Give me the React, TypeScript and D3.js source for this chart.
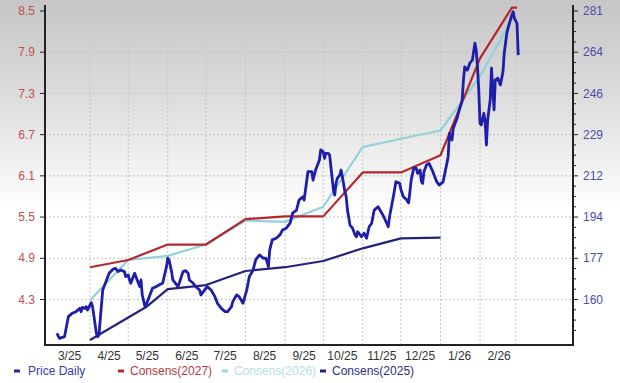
import React from "react";
import * as d3 from "d3";

const priceDates = [
  "2025-03-06","2025-03-08","2025-03-12","2025-03-15","2025-03-18","2025-03-21","2025-03-24","2025-03-25","2025-03-26","2025-03-28","2025-03-29","2025-03-30",
  "2025-04-02","2025-04-03","2025-04-06","2025-04-07","2025-04-08","2025-04-11","2025-04-14","2025-04-16","2025-04-19","2025-04-21","2025-04-23","2025-04-25","2025-04-28","2025-04-29",
  "2025-05-01","2025-05-02","2025-05-03","2025-05-05","2025-05-06","2025-05-07","2025-05-08","2025-05-10","2025-05-11","2025-05-12","2025-05-14","2025-05-15","2025-05-18","2025-05-20","2025-05-23","2025-05-25","2025-05-28","2025-05-31",
  "2025-06-01","2025-06-02","2025-06-04","2025-06-05","2025-06-08","2025-06-09","2025-06-10","2025-06-13","2025-06-15","2025-06-17","2025-06-18","2025-06-21","2025-06-23","2025-06-26","2025-06-27","2025-06-30",
  "2025-07-02","2025-07-05","2025-07-08","2025-07-10","2025-07-13","2025-07-16","2025-07-18","2025-07-21","2025-07-22","2025-07-25","2025-07-27","2025-07-30",
  "2025-08-02","2025-08-04","2025-08-07","2025-08-09","2025-08-12","2025-08-15","2025-08-17","2025-08-19","2025-08-20","2025-08-22","2025-08-25","2025-08-28","2025-08-30",
  "2025-09-02","2025-09-05","2025-09-07","2025-09-10","2025-09-12","2025-09-15","2025-09-16","2025-09-19","2025-09-22","2025-09-23","2025-09-25","2025-09-28","2025-09-29",
  "2025-10-01","2025-10-02","2025-10-03","2025-10-05","2025-10-06","2025-10-07","2025-10-09","2025-10-10","2025-10-11","2025-10-12","2025-10-14","2025-10-15","2025-10-16","2025-10-18","2025-10-19","2025-10-20","2025-10-22","2025-10-24","2025-10-26","2025-10-27","2025-10-28","2025-10-29","2025-10-31",
  "2025-11-02","2025-11-04","2025-11-06","2025-11-08","2025-11-10","2025-11-13","2025-11-16","2025-11-18","2025-11-21","2025-11-22","2025-11-25","2025-11-27","2025-11-30",
  "2025-12-01","2025-12-03","2025-12-05","2025-12-07","2025-12-09","2025-12-11","2025-12-13","2025-12-14","2025-12-16","2025-12-17","2025-12-18","2025-12-19","2025-12-21","2025-12-23","2025-12-26","2025-12-29","2025-12-31",
  "2026-01-03","2026-01-06","2026-01-07","2026-01-08","2026-01-10","2026-01-11","2026-01-14","2026-01-15","2026-01-18","2026-01-19","2026-01-20","2026-01-22","2026-01-23","2026-01-24","2026-01-26","2026-01-28","2026-01-29","2026-01-30","2026-01-31",
  "2026-02-01","2026-02-02","2026-02-04","2026-02-05","2026-02-06","2026-02-07","2026-02-09","2026-02-10","2026-02-12","2026-02-13","2026-02-15","2026-02-17","2026-02-19","2026-02-20","2026-02-22","2026-02-24","2026-02-26","2026-02-27","2026-02-28","2026-03-02","2026-03-03"
];
const priceValues = [
  145.8,143.7,144.4,152.8,154.2,154.9,156.3,154.9,156.7,156.3,157.0,155.6,
  158.7,157.0,145.8,144.4,145.1,164.0,168.2,171.0,172.7,173.1,171.7,172.4,171.7,169.6,
  170.3,168.2,166.8,169.6,171.0,169.6,168.2,165.4,168.2,161.9,157.3,157.7,161.9,164.7,165.4,166.1,166.8,173.8,
  177.3,176.6,171.7,168.2,166.1,165.4,166.8,171.7,172.1,171.0,168.2,166.8,165.4,164.0,161.9,164.0,
  165.4,164.0,161.2,158.4,156.3,154.9,154.9,157.0,159.1,161.9,161.2,158.4,
  164.0,169.6,172.4,176.6,178.7,177.3,177.3,173.8,180.8,185.0,185.7,187.1,189.1,
  189.9,192.0,196.2,197.5,201.7,203.1,201.7,213.6,213.6,210.1,214.3,218.5,222.7,
  222.0,219.2,221.3,221.3,220.6,215.7,205.9,203.8,208.7,210.8,212.2,214.3,211.5,205.2,203.1,197.5,191.2,189.9,187.1,186.3,188.4,187.8,186.3,
  187.8,185.7,190.5,192.0,197.5,198.9,196.2,194.1,190.5,194.7,203.1,209.4,208.7,
  205.9,203.0,202.1,200.5,210.1,215.2,215.0,212.9,214.3,209.4,208.7,213.6,216.4,217.1,213.6,209.4,208.0,
  209.3,217.1,219.9,229.7,226.9,231.8,236.0,238.1,243.7,252.1,257.6,256.2,257.6,259.1,260.4,267.5,264.6,257.6,247.9,
  233.9,233.2,238.1,234.6,224.8,235.3,243.7,257.0,239.5,252.1,252.8,250.0,255.5,263.3,271.6,275.8,279.3,280.7,277.9,275.8,262.5
];

const cons2027Dates = ["2025-04-01","2025-05-01","2025-06-01","2025-07-01","2025-08-01","2025-09-01","2025-10-01","2025-11-01","2025-12-01","2026-01-01","2026-02-01","2026-02-26","2026-03-02"];
const cons2027Values = [4.77,4.875,5.10,5.10,5.47,5.51,5.51,6.15,6.15,6.40,7.81,8.55,8.55];

const cons2026Dates = ["2025-04-01","2025-05-01","2025-06-01","2025-07-01","2025-08-01","2025-09-01","2025-10-01","2025-11-01","2025-12-01","2026-01-01","2026-02-01","2026-02-28"];
const cons2026Values = [4.29,4.875,4.935,5.10,5.45,5.43,5.65,6.52,6.64,6.76,7.55,8.45];

const cons2025Dates = ["2025-04-01","2025-05-15","2025-06-01","2025-07-01","2025-08-01","2025-09-01","2025-10-01","2025-11-01","2025-12-01","2026-01-01"];
const cons2025Values = [3.71,4.19,4.45,4.51,4.715,4.77,4.86,5.045,5.19,5.20];

const leftTicks = [4.3, 4.9, 5.5, 6.1, 6.7, 7.3, 7.9, 8.5];
const rightTickLabels = ["160", "177", "194", "212", "229", "246", "264", "281"];
const monthLabels = ["3/25","4/25","5/25","6/25","7/25","8/25","9/25","10/25","11/25","12/25","1/26","2/26"];

const legendItems = [
  { label: "Price Daily", color: "#2323a8", text: "#3b3ba6", x: 14 },
  { label: "Consens(2027)", color: "#b3282d", text: "#b8383d", x: 118 },
  { label: "Consens(2026)", color: "#9ed6e0", text: "#b5dde6", x: 222 },
  { label: "Consens(2025)", color: "#23237e", text: "#2e2e82", x: 320 },
];

const parse = d3.timeParse("%Y-%m-%d");

export default function App() {
  const W = 620, H = 383;
  const left = 45, right = 573, bottom = 345, top = 5;
  const x = d3.scaleTime().domain([new Date(2025, 2, 1), new Date(2026, 2, 1)]).range([50.5, 515.7]);
  const yL = d3.scaleLinear().domain([4.3, 8.5]).range([299.5, 11]);
  const yR = d3.scaleLinear().domain([160, 281]).range([299.5, 11]);

  const lineL = d3.line<[Date, number]>().x(d => x(d[0])).y(d => yL(d[1]));
  const lineR = d3.line<[Date, number]>().x(d => x(d[0])).y(d => yR(d[1]));

  const zip = (ds: string[], vs: number[]) => ds.map((d, i) => [parse(d) as Date, vs[i]] as [Date, number]);

  const price = zip(priceDates, priceValues);
  const c27 = zip(cons2027Dates, cons2027Values);
  const c26 = zip(cons2026Dates, cons2026Values);
  const c25 = zip(cons2025Dates, cons2025Values);

  const monthStarts = d3.timeMonth.range(new Date(2025, 3, 1), new Date(2026, 2, 2));
  const labelMonths = d3.timeMonth.range(new Date(2025, 2, 1), new Date(2026, 2, 1));

  const step = leftTicks[1] - leftTicks[0];
  const minorVals: number[] = [];
  for (let v = 8.5 - step / 4; yL(v) < bottom; v -= step / 4) {
    const k = Math.round((8.5 - v) / (step / 4));
    if (k % 4 !== 0) minorVals.push(v);
  }

  const font = "'Liberation Sans', Arial, sans-serif";

  return (
    <svg width={W} height={H} style={{ position: "absolute", left: 0, top: 0 }} fontFamily={font}>
      <defs>
        <linearGradient id="bg" x1="0" y1="0" x2="0" y2="1">
          <stop offset="0" stopColor="#c6c6c6" />
          <stop offset="0.25" stopColor="#dcdcdc" />
          <stop offset="0.55" stopColor="#ffffff" />
          <stop offset="1" stopColor="#ffffff" />
        </linearGradient>
      </defs>
      <rect x={0} y={0} width={W} height={H} fill="url(#bg)" />

      {/* grid */}
      <g stroke="#c4c4c4" strokeWidth={1} strokeDasharray="2,2">
        {leftTicks.map(t => (
          <line key={"h" + t} x1={left} x2={right} y1={yL(t)} y2={yL(t)} />
        ))}
        {monthStarts.map((m, i) => (
          <line key={"v" + i} x1={x(m)} x2={x(m)} y1={yL(8.5)} y2={bottom} />
        ))}
      </g>

      {/* series */}
      <path d={lineL(c26) || ""} fill="none" stroke="#92d0dc" strokeWidth={2.2} strokeLinejoin="round" />
      <path d={lineL(c27) || ""} fill="none" stroke="#b3282d" strokeWidth={2.2} strokeLinejoin="round" />
      <path d={lineL(c25) || ""} fill="none" stroke="#23237e" strokeWidth={2.2} strokeLinejoin="round" />
      <path d={lineR(price) || ""} fill="none" stroke="#1e1eaa" strokeWidth={2.8} strokeLinejoin="round" />

      {/* axes */}
      <g stroke="#222" strokeWidth={2} fill="none">
        <line x1={left} x2={left} y1={top} y2={bottom + 1} />
        <line x1={right} x2={right} y1={top} y2={bottom + 1} />
        <line x1={left - 1} x2={right + 1} y1={bottom} y2={bottom} />
      </g>
      <g stroke="#222" strokeWidth={1}>
        {leftTicks.map(t => (
          <line key={"lt" + t} x1={left - 5} x2={left} y1={yL(t)} y2={yL(t)} />
        ))}
        {leftTicks.map(t => (
          <line key={"rt" + t} x1={right} x2={right + 5} y1={yL(t)} y2={yL(t)} />
        ))}
        {minorVals.map((v, i) => (
          <line key={"mt" + i} x1={right} x2={right + 3} y1={yL(v)} y2={yL(v)} />
        ))}
      </g>

      {/* tick labels */}
      <g fontSize={12} fill="#c0504f" textAnchor="end">
        {leftTicks.map(t => (
          <text key={"ll" + t} x={35} y={yL(t)} dy="0.35em">{t.toFixed(1)}</text>
        ))}
      </g>
      <g fontSize={12} fill="#4d4da6" textAnchor="start">
        {rightTickLabels.map((lab, i) => (
          <text key={"rl" + lab} x={583} y={yL(leftTicks[i])} dy="0.35em">{lab}</text>
        ))}
      </g>
      <g fontSize={12} fill="#333" textAnchor="middle">
        {labelMonths.map((m, i) => (
          <text key={"ml" + i} x={x(d3.timeDay.offset(m, 15))} y={360}>{monthLabels[i]}</text>
        ))}
      </g>

      {/* legend */}
      <g fontSize={12}>
        {legendItems.map(it => (
          <g key={it.label}>
            <line x1={it.x} x2={it.x + 6} y1={371} y2={371} stroke={it.color} strokeWidth={3} />
            <text x={it.x + (it.label === "Price Daily" ? 14 : 12)} y={375} fill={it.text}>{it.label}</text>
          </g>
        ))}
      </g>
    </svg>
  );
}
